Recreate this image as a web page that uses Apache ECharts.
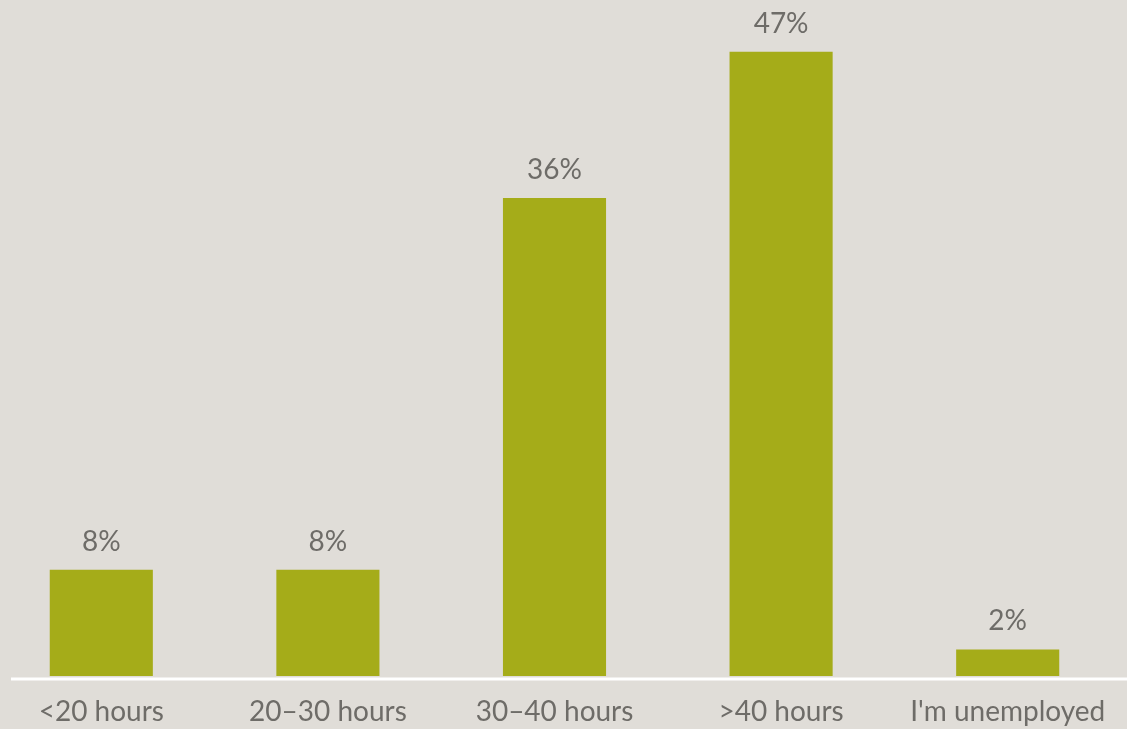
<!DOCTYPE html>
<html>
<head>
<meta charset="utf-8">
<script src="https://cdn.jsdelivr.net/npm/echarts@6/dist/echarts.min.js"></script>
<style>
  html, body { margin: 0; padding: 0; background: #E0DDD8; }
  #chart { width: 1127px; height: 729px; }
</style>
</head>
<body>
<div id="chart"></div>
<script>
// Weekly working hours survey
const categories = ['<20 hours', '20\u201330 hours', '30\u201340 hours', '>40 hours', "I'm unemployed"];
const shares = [8, 8, 36, 47, 2];

const textColor = '#6E6C68';
const fontFamily = 'Lato, "Noto Sans", sans-serif';

const chart = echarts.init(document.getElementById('chart'));
chart.setOption({
  backgroundColor: '#E0DDD8',
  animation: false,
  grid: { left: -12, right: 6, top: 12, bottom: 53, containLabel: false, outerBoundsMode: 'none' },
  xAxis: {
    type: 'category',
    data: categories,
    axisLine: { show: false },
    axisTick: { show: false },
    axisLabel: {
      color: textColor,
      fontFamily: fontFamily,
      fontSize: 28,
      margin: 22,
      interval: 0,
      hideOverlap: false
    }
  },
  yAxis: {
    type: 'value',
    min: 0,
    max: 50,
    show: false,
    splitLine: { show: false }
  },
  graphic: [{
    type: 'line',
    shape: { x1: 11, y1: 679, x2: 1127, y2: 679 },
    style: { stroke: '#FFFFFF', lineWidth: 3 },
    z: 10
  }],
  series: [{
    type: 'bar',
    data: shares,
    barCategoryGap: '54.5%',
    itemStyle: { color: '#A5AC19' },
    label: {
      show: true,
      position: 'top',
      distance: 14,
      formatter: '{c}%',
      color: textColor,
      fontFamily: fontFamily,
      fontSize: 28
    }
  }]
});
</script>
</body>
</html>
